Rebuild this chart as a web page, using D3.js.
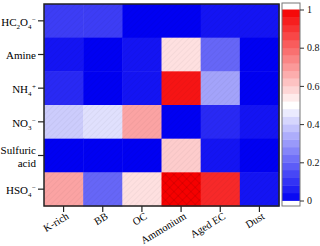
<!DOCTYPE html>
<html>
<head>
<meta charset="utf-8">
<script src="https://cdn.jsdelivr.net/npm/d3@7"></script>
<style>
  body { margin: 0; background: #fff; }
  svg { display: block; font-family: "Liberation Serif", "Times New Roman", serif; }
</style>
</head>
<body>
<svg width="320" height="246"></svg>
<script>
const rows = ["HC2O4-", "Amine", "NH4+", "NO3-", "Sulfuric acid", "HSO4-"];
const cols = ["K-rich", "BB", "OC", "Ammonium", "Aged EC", "Dust"];
// one list per row, in column order
const hc2o4 = [0.12, 0.12, 0.0, 0.0, 0.04, 0.04];
const amine = [0.03, 0.0, 0.04, 0.57, 0.2, 0.0];
const nh4 = [0.07, 0.0, 0.04, 0.97, 0.32, 0.0];
const no3 = [0.39, 0.45, 0.69, 0.0, 0.06, 0.02];
const sulfuric = [0.0, 0.0, 0.0, 0.61, 0.04, 0.01];
const hso4 = [0.67, 0.2, 0.56, 1.0, 0.92, 0.05];
const values = [hc2o4, amine, nh4, no3, sulfuric, hso4];
const barTicks = [0, 0.2, 0.4, 0.6, 0.8, 1];

const svg = d3.select("svg");
const plot = { left: 44, right: 279, top: 4, bottom: 206 };

const x = d3.scaleBand().domain(cols).range([plot.left, plot.right]);
const y = d3.scaleBand().domain(rows).range([plot.top, plot.bottom]);
const color = d3.scaleLinear().domain([0, 0.5, 1]).range(["#0000f2", "#ffffff", "#f50000"]);
const step = 0.04;
const q = v => Math.min(1, Math.round(v / step) * step);

// faint hatch textures
const defs = svg.append("defs");
const hatch = defs.append("pattern").attr("id", "hatch")
  .attr("patternUnits", "userSpaceOnUse").attr("width", 4).attr("height", 4)
  .attr("patternTransform", "rotate(45)");
hatch.append("line").attr("x1", 0).attr("y1", 0).attr("x2", 0).attr("y2", 4)
  .attr("stroke", "#000").attr("stroke-opacity", 0.07).attr("stroke-width", 1);
const cross = defs.append("pattern").attr("id", "cross")
  .attr("patternUnits", "userSpaceOnUse").attr("width", 6).attr("height", 6)
  .attr("patternTransform", "rotate(45)");
cross.append("path").attr("d", "M0,0V6M0,0H6")
  .attr("stroke", "#000").attr("stroke-opacity", 0.18).attr("stroke-width", 1);

const cells = [];
values.forEach((row, i) => row.forEach((v, j) => cells.push({ r: rows[i], c: cols[j], v })));

svg.append("g").selectAll("rect")
  .data(cells)
  .join("rect")
  .attr("x", d => x(d.c))
  .attr("y", d => y(d.r))
  .attr("width", x.bandwidth() + 0.5)
  .attr("height", y.bandwidth() + 0.5)
  .attr("fill", d => color(q(d.v)));

svg.append("g").selectAll("rect")
  .data(cells)
  .join("rect")
  .attr("x", d => x(d.c))
  .attr("y", d => y(d.r))
  .attr("width", x.bandwidth())
  .attr("height", y.bandwidth())
  .attr("fill", d => d.v >= 0.98 ? "url(#cross)" : "url(#hatch)");

// frame
svg.append("rect")
  .attr("x", plot.left).attr("y", plot.top)
  .attr("width", plot.right - plot.left).attr("height", plot.bottom - plot.top)
  .attr("fill", "none").attr("stroke", "#222").attr("stroke-width", 1.5);

// y axis
const yAxis = svg.append("g").attr("transform", `translate(${plot.left},0)`)
  .call(d3.axisLeft(y).tickSize(6).tickFormat(""));
yAxis.select(".domain").remove();
yAxis.selectAll("line").attr("stroke", "#222").attr("stroke-width", 1.2);

function chemLabel(sel, name) {
  const t = sel.append("text").attr("text-anchor", "end").attr("font-size", 11).attr("fill", "#000");
  if (name.includes(" ")) {
    const parts = name.split(" ");
    t.append("tspan").attr("x", 0).attr("dy", "-0.2em").text(parts[0]);
    t.append("tspan").attr("x", 0).attr("dy", "1.15em").text(parts[1]);
    return;
  }
  t.attr("dy", "0.35em");
  for (const ch of name) {
    if (/[0-9]/.test(ch)) {
      t.append("tspan").attr("font-size", 7).attr("baseline-shift", "-3").text(ch);
    } else if (ch === "+" || ch === "-") {
      t.append("tspan").attr("font-size", 7).attr("baseline-shift", "4").attr("dx", 0.5)
        .text(ch === "-" ? "\u2212" : "+");
    } else {
      t.append("tspan").text(ch);
    }
  }
}

rows.forEach(r => {
  const g = svg.append("g").attr("transform", `translate(${plot.left - 8},${y(r) + y.bandwidth() / 2 + 1})`);
  chemLabel(g, r);
});

// x axis
const xAxis = svg.append("g").attr("transform", `translate(0,${plot.bottom})`)
  .call(d3.axisBottom(x).tickSize(6).tickFormat(""));
xAxis.select(".domain").remove();
xAxis.selectAll("line").attr("stroke", "#222").attr("stroke-width", 1.2);

svg.append("g").selectAll("text")
  .data(cols)
  .join("text")
  .attr("transform", d => `translate(${x(d) + x.bandwidth() / 2 + 4},${plot.bottom + 9}) rotate(-31)`)
  .attr("text-anchor", "end")
  .attr("dy", "0.35em")
  .attr("font-size", 10.5)
  .attr("fill", "#000")
  .text(d => d);

// colour bar
const bar = { left: 282, right: 300, top: 3, bottom: 206 };
const cy = d3.scaleLinear().domain([0, 1]).range([200.5, 9.5]);
const bands = d3.range(0, 1, step);
svg.append("rect")
  .attr("x", bar.left).attr("y", bar.top)
  .attr("width", bar.right - bar.left).attr("height", bar.bottom - bar.top)
  .attr("fill", "#fff");
svg.append("g").selectAll("rect")
  .data(bands)
  .join("rect")
  .attr("x", bar.left)
  .attr("y", d => cy(d + step))
  .attr("width", bar.right - bar.left)
  .attr("height", d => cy(d) - cy(d + step) + 0.4)
  .attr("fill", d => color(d + step / 2));
svg.append("rect")
  .attr("x", bar.left).attr("y", bar.top)
  .attr("width", bar.right - bar.left).attr("height", bar.bottom - bar.top)
  .attr("fill", "none").attr("stroke", "#777").attr("stroke-width", 1);

const barAxis = svg.append("g").attr("transform", `translate(${bar.right},0)`)
  .call(d3.axisRight(cy).tickValues(barTicks).tickSize(4).tickFormat(d => d));
barAxis.select(".domain").remove();
barAxis.selectAll("line").attr("stroke", "#333");
barAxis.selectAll("text")
  .attr("font-family", "Liberation Serif, serif")
  .attr("font-size", 10)
  .attr("fill", "#111")
  .attr("x", 7);
</script>
</body>
</html>
